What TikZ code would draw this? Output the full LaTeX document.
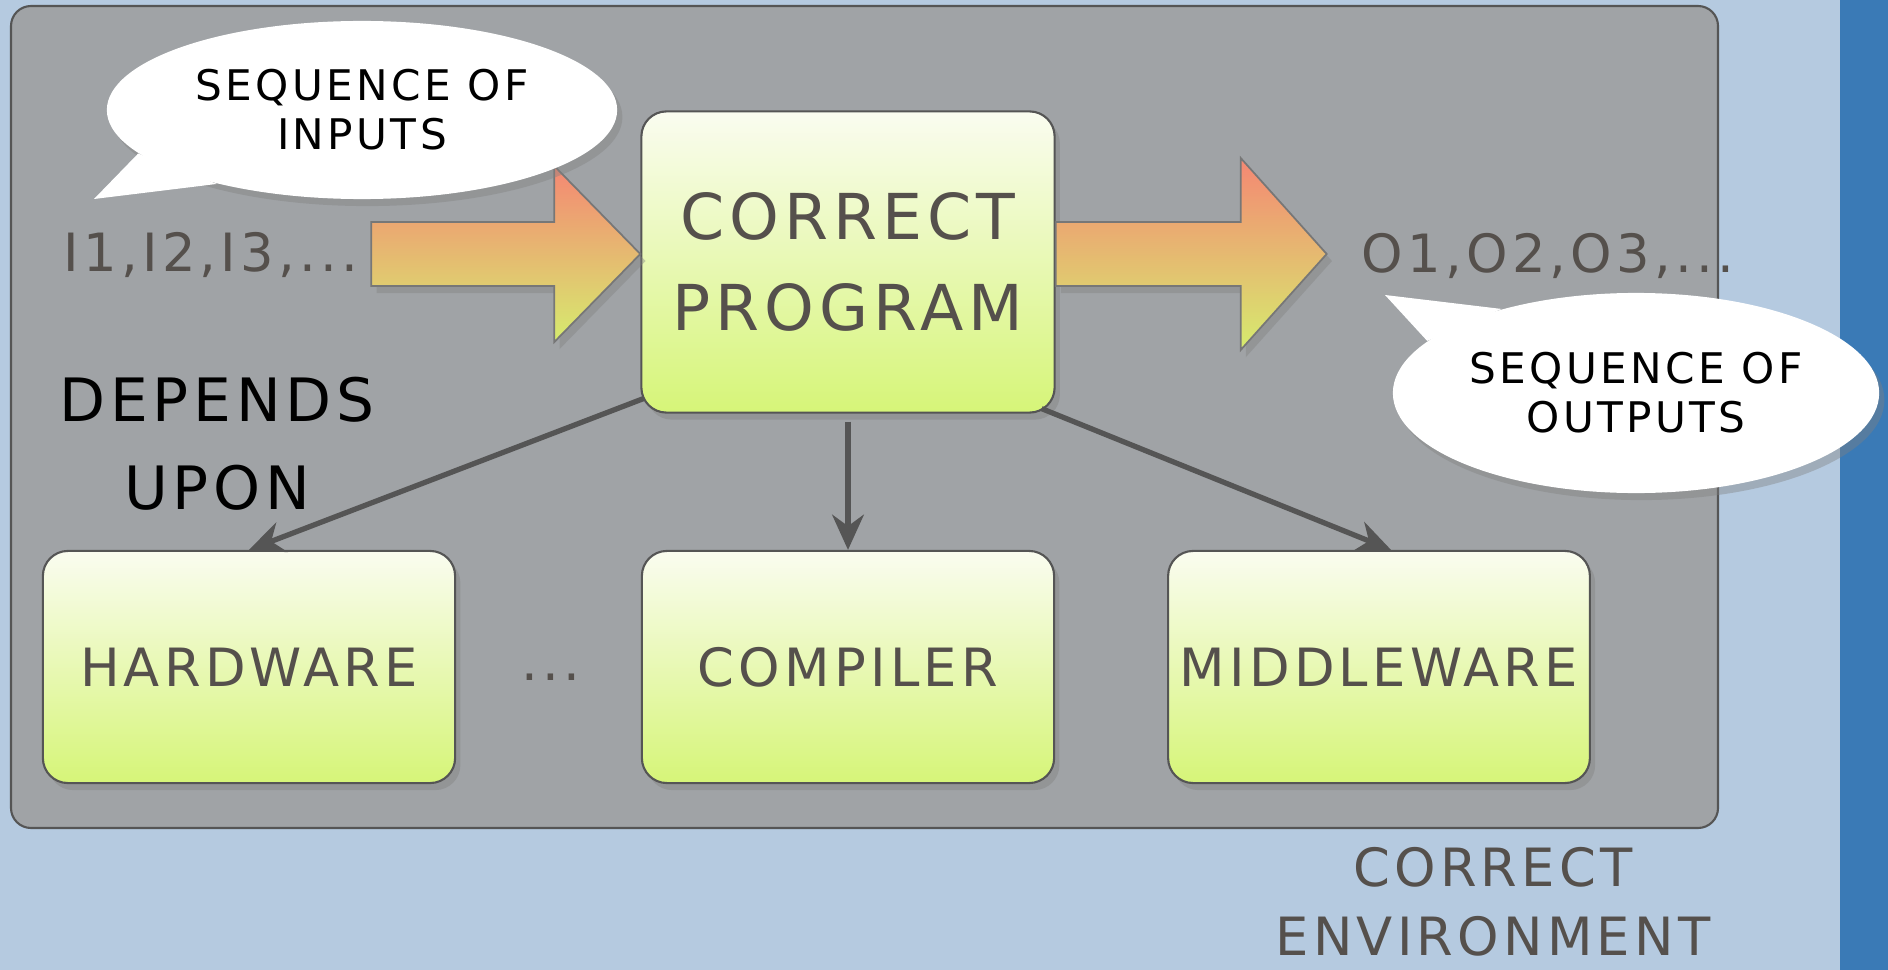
\documentclass[tikz,border=0pt]{standalone}
\usepackage{fontspec}
\setmainfont{DejaVu Sans}[LetterSpace=8]
\usepackage{xcolor}
\usetikzlibrary{calc,shapes.geometric,shadows,arrows.meta}

\definecolor{bgblue}{RGB}{181,202,224}
\definecolor{stripblue}{RGB}{58,122,182}
\definecolor{panelgray}{RGB}{160,163,166}
\definecolor{boxtop}{RGB}{250,252,240}
\definecolor{boxbot}{RGB}{214,245,120}
\definecolor{txtgray}{RGB}{85,80,76}
\definecolor{arrtop}{RGB}{245,135,115}
\definecolor{arrmid}{RGB}{236,178,112}
\definecolor{arrbot}{RGB}{214,236,110}
\definecolor{linegray}{RGB}{85,85,85}

\begin{document}
\begin{tikzpicture}[x=0.01cm, y=-0.01cm,
		softshadow/.style={drop shadow={shadow xshift=1.5pt, shadow yshift=-2pt, opacity=0.4}},
		compbox/.style={draw=linegray, line width=0.6pt, rounded corners=0.25cm, top color=boxtop, bottom color=boxbot, minimum width=4.12cm, minimum height=2.32cm, text=txtgray, align=center, font=\fontsize{15}{18}\selectfont, softshadow},
		bubble/.style={ellipse, fill=white, inner sep=0pt, align=center, font=\fontsize{12}{14}\selectfont, softshadow},
		seq/.style={text=txtgray, font=\fontsize{15}{18}\selectfont},
		dep/.style={draw=linegray, line width=1.5pt, -{Stealth[length=10pt,width=9pt]}},
		bigarrow/.style={draw=linegray!80, line width=0.5pt, top color=arrtop, middle color=arrmid, bottom color=arrbot, softshadow}
	]
	\useasboundingbox (0,0) rectangle (1888,970);
	\fill[bgblue] (0,0) rectangle (1888,970);
	\fill[stripblue] (1840,0) rectangle (1888,970);
	\draw[fill=panelgray, draw=linegray, line width=0.6pt, rounded corners=0.2cm] (11,6) rectangle (1718,828);

	\node[compbox, minimum width=4.13cm, minimum height=3.01cm, font=\fontsize{18}{26}\selectfont] (prog) at (848,262) {CORRECT\\PROGRAM};
	\node[compbox] (hw) at (249,667) {HARDWARE};
	\node[compbox] (comp) at (848,667) {COMPILER};
	\node[compbox] (mw) at (1379,667) {MIDDLEWARE};
	\node[seq] (dots) at (551,677) {...};

	\node[seq] (inseq) at (211,255) {I1,I2,I3,...};
	\node[seq] (outseq) at (1548,256) {O1,O2,O3,...};

	\fill[bigarrow] ($(prog.west)+(0,-8)$) -- ++(-86,-88) -- ++(0,56) -- ++(-183,0) -- ++(0,64) -- ++(183,0) -- ++(0,56) -- cycle;
	\fill[bigarrow] ($(prog.east)+(0,-40)$) -- ++(185,0) -- ++(0,-64) -- ++(86,96) -- ++(-86,96) -- ++(0,-64) -- ++(-185,0) -- cycle;

	\node[bubble, minimum width=5.1cm, minimum height=1.78cm] (inbub) at (362,110) {SEQUENCE OF\\INPUTS};
	\coordinate (intail) at (94,199);
	\fill[white] (inbub.191) -- (intail) -- (inbub.207) -- cycle;
	\node[bubble, minimum width=4.86cm, minimum height=2.0cm] (outbub) at (1636,393) {SEQUENCE OF\\OUTPUTS};
	\coordinate (outtail) at (1385,295);
	\fill[white] (outbub.166) -- (outtail) -- (outbub.148) -- cycle;

	\node[font=\fontsize{17}{25}\selectfont, align=center] (depends) at (217,444) {DEPENDS\\UPON};
	\node[text=txtgray, font=\fontsize{15}{19.5}\selectfont, align=center] (env) at (1493,902) {CORRECT\\ENVIRONMENT};

	\draw[dep] ($(prog.south west)+(3,-15)$) -- (hw.north);
	\draw[dep] ($(prog.south)+(0,8)$) -- (comp.north);
	\draw[dep] ($(prog.south east)+(-14,-5)$) -- ($(mw.north)+(12,0)$);
\end{tikzpicture}
\end{document}
